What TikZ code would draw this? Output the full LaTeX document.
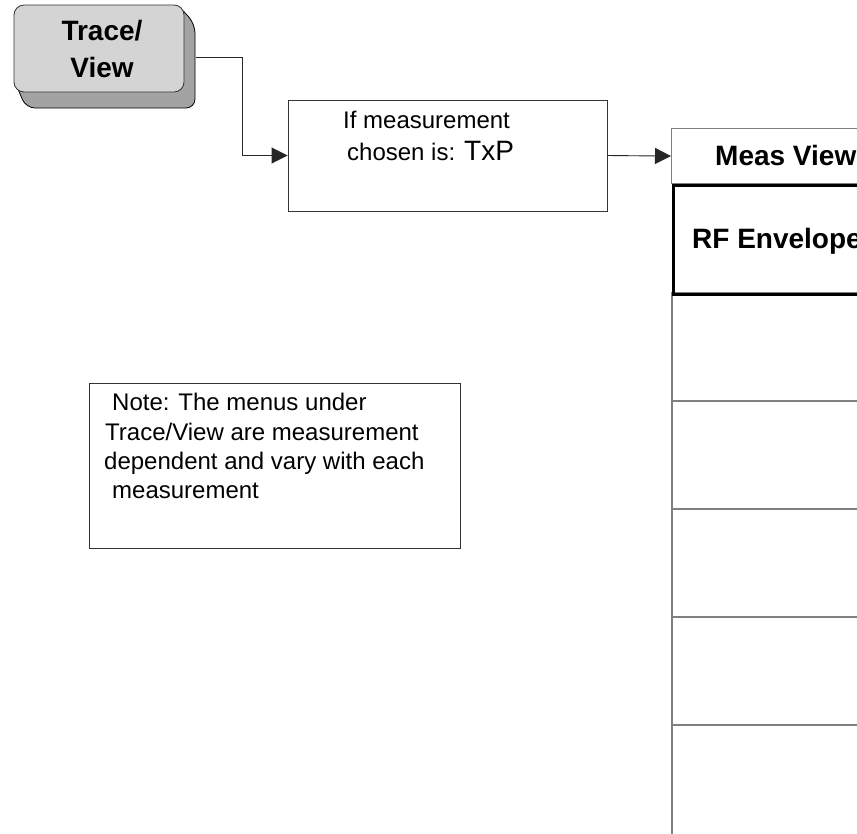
\documentclass[tikz,border=0pt]{standalone}
\usepackage{fontspec}
\setmainfont{Liberation Sans}
\usetikzlibrary{arrows.meta}
\definecolor{facegray}{HTML}{D4D4D4}
\definecolor{shadegray}{HTML}{A3A3A3}
\definecolor{linegray}{HTML}{808080}
\definecolor{rowgray}{HTML}{5A5A5A}
\tikzset{
  conn/.style={draw=black!85, line width=0.9pt, -{Triangle[length=16pt,width=16pt]}},
  plainbox/.style={draw=black!80, line width=0.9pt, rectangle, inner sep=0pt},
  rowbox/.style={draw=linegray, line width=1.5pt, rectangle, inner sep=0pt, minimum width=240pt, minimum height=108pt, anchor=north west},
  boldtxt/.style={font=\fontsize{28}{32}\selectfont\bfseries, inner sep=0pt},
  regtxt/.style={font=\fontsize{24}{28}\selectfont, inner sep=0pt},
}
\begin{document}
\begin{tikzpicture}[x=1pt,y=-1pt]
\clip (0,0) rectangle (857,833);
\fill[white] (0,0) rectangle (857,833);
% button shadow
\draw[fill=shadegray, line width=0.8pt, rounded corners=9pt]
  (15,82) -- (26,108) -- (195,108) -- (195,24) -- (178,5) -- cycle;
% button face
\node[draw=black!80, line width=0.8pt, fill=facegray, rounded corners=10pt, minimum width=170pt, minimum height=87pt, inner sep=0pt] (tv) at (99,48.5) {};
\node[boldtxt, anchor=base] (tvt1) at (102,40) {Trace/};
\node[boldtxt, anchor=base] (tvt2) at (102,77) {View};
\coordinate (tvout) at (196,57);
% condition box
\node[plainbox, minimum width=319pt, minimum height=111pt] (cond) at (447.5,155.5) {};
\node[regtxt, anchor=base west] (cl1) at (343,128) {If measurement};
\node[regtxt, anchor=base west] (cl2) at (347,160) {chosen is: \fontsize{28}{32}\selectfont TxP};
% column
\foreach \i in {0,...,3} {
  \node[rowbox] (row\i) at (671,{292+108*\i}) {};
}
\node[rowbox, minimum height=140pt] (row4) at (671,724) {};
\node[draw=linegray, line width=1.2pt, rectangle, inner sep=0pt, minimum width=240pt, minimum height=55pt, anchor=north west] (hdr) at (671,128) {};
\node[boldtxt, anchor=base west] (hdrt) at (715,165) {Meas View};
\node[draw=black, line width=3pt, rectangle, inner sep=0pt, minimum width=240pt, minimum height=109pt, anchor=north west] (rf) at (672,183.5) {};
\node[boldtxt, anchor=base west] (rft) at (692,248) {RF Envelope};
% connectors
\draw[conn] (tvout) -| (242,155.5) -- (cond.west);
\draw[conn] (cond.east) -- (hdr.west);
% note
\node[plainbox, minimum width=371pt, minimum height=165pt, anchor=north west] (note) at (89,383) {};
\node[regtxt, anchor=base west] (n1) at (112,410) {Note: The menus under};
\node[regtxt, anchor=base west] (n2) at (105,440) {Trace/View are measurement};
\node[regtxt, anchor=base west] (n3) at (104,469) {dependent and vary with each};
\node[regtxt, anchor=base west] (n4) at (112,498) {measurement};
\end{tikzpicture}
\end{document}
